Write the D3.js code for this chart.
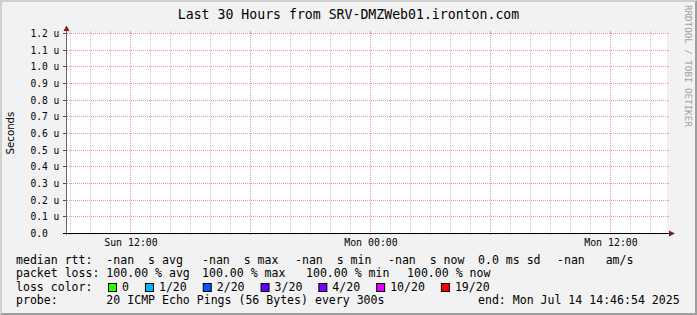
<!DOCTYPE html>
<html>
<head>
<meta charset="utf-8">
<script src="https://cdn.jsdelivr.net/npm/d3@7"></script>
<style>
body { margin: 0; background: #fff; }
text { font-family: "DejaVu Sans Mono", monospace; fill: #000; }
</style>
</head>
<body>
<div id="chart"></div>
<script>
var width = 697,
    height = 315;

// chart data
var title = "Last 30 Hours from SRV-DMZWeb01.ironton.com";
var yAxisTitle = "Seconds";
var timeStart = new Date(2025, 6, 13, 8, 49, 30),
    timeEnd = new Date(2025, 6, 14, 14, 49, 30);
var yTicks = [0, 0.1e-6, 0.2e-6, 0.3e-6, 0.4e-6, 0.5e-6, 0.6e-6, 0.7e-6, 0.8e-6, 0.9e-6, 1.0e-6, 1.1e-6, 1.2e-6];
var yTickLabels = ["0.0", "0.1 u", "0.2 u", "0.3 u", "0.4 u", "0.5 u", "0.6 u", "0.7 u", "0.8 u", "0.9 u", "1.0 u", "1.1 u", "1.2 u"];
var xLabelTimes = [new Date(2025, 6, 13, 12), new Date(2025, 6, 14, 0), new Date(2025, 6, 14, 12)];
var xLabels = ["Sun 12:00", "Mon 00:00", "Mon 12:00"];
var medianRtt = ["-nan", "-nan", "-nan", "-nan"];   // avg max min now
var rttSd = "0.0";
var rttAms = "-nan";
var packetLoss = [100, 100, 100, 100];                 // avg max min now
var lossLabels = ["0", "1/20", "2/20", "3/20", "4/20", "10/20", "19/20"];
var lossColors = ["#26ff00", "#00b8ff", "#0059ff", "#5e00ff", "#7e00ff", "#dd00ff", "#ff0000"];
var probeText = "20 ICMP Echo Pings (56 Bytes) every 300s";
var endText = "end: Mon Jul 14 14:46:54 2025";
var watermark = "RRDTOOL / TOBI OETIKER";

var plotL = 67, plotR = 667, plotT = 33, plotB = 233;
var charW = 6.95;

var svg = d3.select("#chart").append("svg")
    .attr("width", width)
    .attr("height", height);

// background + shade frame
svg.append("rect").attr("width", width).attr("height", height).attr("fill", "#f2f2f2");
svg.append("path").attr("fill", "#cfcfcf")
    .attr("d", "M0,0H" + width + "L" + (width - 2) + ",2H2V" + (height - 2) + "L0," + height + "Z");
svg.append("path").attr("fill", "#9e9e9e")
    .attr("d", "M" + width + ",0V" + height + "H0L2," + (height - 2) + "H" + (width - 2) + "V2Z");

svg.append("rect")
    .attr("x", plotL - 1).attr("y", plotT)
    .attr("width", plotR - plotL + 1).attr("height", plotB - plotT + 1)
    .attr("fill", "#fff");

var x = d3.scaleTime().domain([timeStart, timeEnd]).range([plotL, plotR]);
var y = d3.scaleLinear().domain([0, 1.2e-6]).range([plotB, plotT]);

function px(v) { return Math.floor(x(v)) + 0.5; }
function py(v) { return Math.round(y(v)) + 0.5; }

var minorGrid = "#c8c8c8", majorGrid = "#eb9a9a";

// vertical grid
var hours = d3.timeHour.range(timeStart, timeEnd);
var majors = d3.timeHour.every(6).range(timeStart, timeEnd).map(Number);

var vgrid = svg.append("g");
hours.forEach(function(h) {
  var isMajor = majors.indexOf(+h) >= 0;
  var c = isMajor ? majorGrid : minorGrid;
  vgrid.append("line")
      .attr("x1", px(h)).attr("x2", px(h))
      .attr("y1", plotT).attr("y2", plotB)
      .attr("stroke", c).attr("stroke-dasharray", "1,1");
  vgrid.append("line")
      .attr("x1", px(h)).attr("x2", px(h))
      .attr("y1", plotT - 2).attr("y2", plotT)
      .attr("stroke", c);
  vgrid.append("line")
      .attr("x1", px(h)).attr("x2", px(h))
      .attr("y1", plotB).attr("y2", plotB + 2)
      .attr("stroke", c);
});

// horizontal grid + y ticks
var hgrid = svg.append("g");
yTicks.forEach(function(v, i) {
  if (i > 0) {
    hgrid.append("line")
        .attr("x1", plotL).attr("x2", plotR + 1)
        .attr("y1", py(v)).attr("y2", py(v))
        .attr("stroke", majorGrid).attr("stroke-dasharray", "1,1");
    hgrid.append("line")
        .attr("x1", plotR).attr("x2", plotR + 2)
        .attr("y1", py(v)).attr("y2", py(v))
        .attr("stroke", majorGrid);
  }
  hgrid.append("line")
      .attr("x1", plotL - 4).attr("x2", plotL)
      .attr("y1", py(v)).attr("y2", py(v))
      .attr("stroke", "#555");
  svg.append("text")
      .attr("x", 30.5).attr("y", py(v) + 3.2)
      .style("font-size", "9.6px")
      .text(yTickLabels[i]);
});

// x labels
xLabelTimes.forEach(function(t, i) {
  svg.append("text")
      .attr("x", px(t) + 0.5).attr("y", 245.5)
      .attr("text-anchor", "middle")
      .style("font-size", "9.9px")
      .text(xLabels[i]);
});

// axes
svg.append("line")
    .attr("x1", plotL - 0.5).attr("x2", plotL - 0.5)
    .attr("y1", plotB + 2).attr("y2", 29)
    .attr("stroke", "#666");
svg.append("path").attr("fill", "#801f1f")
    .attr("d", "M" + (plotL - 0.5) + ",25.5L" + (plotL + 2.5) + ",31L" + (plotL - 3.5) + ",31Z");
svg.append("line")
    .attr("x1", plotL - 4).attr("x2", 670)
    .attr("y1", plotB + 0.5).attr("y2", plotB + 0.5)
    .attr("stroke", "#000");
svg.append("path").attr("fill", "#801f1f")
    .attr("d", "M675," + (plotB + 0.5) + "L669," + (plotB - 2.5) + "L669," + (plotB + 3.5) + "Z");

// titles
svg.append("text")
    .attr("x", width / 2).attr("y", 18.5)
    .attr("text-anchor", "middle")
    .style("font-size", "13.2px")
    .text(title);

svg.append("text")
    .attr("transform", "translate(14,133) rotate(-90)")
    .attr("text-anchor", "middle")
    .style("font-family", "'DejaVu Sans', sans-serif")
    .style("font-size", "10.2px")
    .text(yAxisTitle);

svg.append("text")
    .attr("transform", "translate(685,5) rotate(90)")
    .style("font-size", "9.2px")
    .style("fill", "#a0a0a0")
    .text(watermark);

// legend
var legend = svg.append("g").style("font-size", "11.55px");
function putRow(yy, pieces, xs) {
  pieces.forEach(function(p, i) {
    legend.append("text").attr("x", xs[i]).attr("y", yy)
        .attr("xml:space", "preserve").style("white-space", "pre")
        .text(p);
  });
}

putRow(263.5, [
  "median rtt:  " + medianRtt[0] + "  s avg",
  medianRtt[1] + "  s max",
  medianRtt[2] + "  s min",
  medianRtt[3] + "  s now",
  rttSd + " ms sd",
  rttAms + "   am/s"
], [16, 202, 295, 388, 478, 557]);

putRow(277, [
  "packet loss: " + packetLoss[0].toFixed(2) + " % avg",
  packetLoss[1].toFixed(2) + " % max",
  packetLoss[2].toFixed(2) + " % min",
  packetLoss[3].toFixed(2) + " % now"
], [16, 202, 306, 407]);

legend.append("text").attr("x", 16).attr("y", 290.5).text("loss color:");
var bx = 108;
lossLabels.forEach(function(l, i) {
  legend.append("rect")
      .attr("x", bx + 0.5).attr("y", 283.5)
      .attr("width", 8).attr("height", 8)
      .attr("fill", lossColors[i]).attr("stroke", "#000");
  legend.append("text").attr("x", bx + 14).attr("y", 290.5).text(l);
  bx = bx + 14 + l.length * charW + 16;
});

putRow(304, ["probe:       " + probeText, endText], [16, 478]);
</script>
</body>
</html>
